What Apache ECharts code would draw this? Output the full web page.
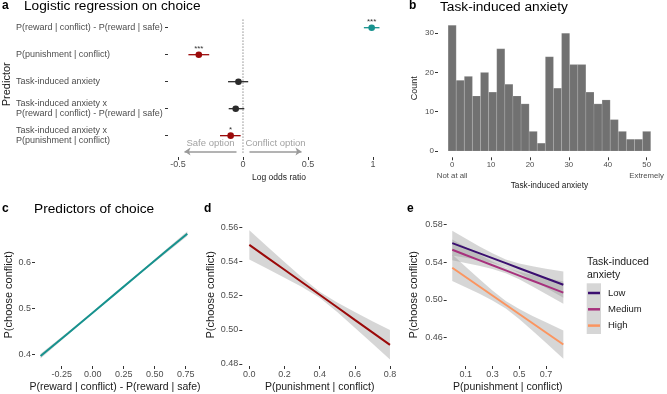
<!DOCTYPE html>
<html>
<head>
<meta charset="utf-8">
<script src="https://cdn.jsdelivr.net/npm/echarts@6/dist/echarts.min.js"></script>
<style>
  html, body { margin: 0; padding: 0; background: #fff; }
  #main { width: 667px; height: 394px; }
</style>
</head>
<body>
<div id="main"></div>
<script>
// ---- panel a: logistic regression coefficients ----
const predictors = [
  'P(reward | conflict) - P(reward | safe)',
  'P(punishment | conflict)',
  'Task-induced anxiety',
  'Task-induced anxiety x\nP(reward | conflict) - P(reward | safe)',
  'Task-induced anxiety x\nP(punishment | conflict)'
];
const estimate = [0.99, -0.34, -0.035, -0.056, -0.095];
const ciLow = [0.93, -0.42, -0.115, -0.11, -0.177];
const ciHigh = [1.05, -0.26, 0.04, 0.01, -0.018];
const stars = ['***', '***', '', '', '*'];
const aTicks = [-0.5, 0, 0.5, 1];

// ---- panel b: histogram of task-induced anxiety ----
const binCenters = [0, 2.08, 4.17, 6.25, 8.33, 10.42, 12.5, 14.58, 16.67, 18.75, 20.83, 22.92, 25,
  27.08, 29.17, 31.25, 33.33, 35.42, 37.5, 39.58, 41.67, 43.75, 45.83, 47.92, 50];
const binCounts = [32, 18, 19, 14, 20, 15, 26, 17, 14, 12, 5, 2, 24, 16, 30, 22, 22, 15, 12, 13, 8, 5, 3, 3, 5];
const binWidth = 2.083;
const bTicks = [0, 10, 20, 30, 40, 50];
const countTicks = [0, 10, 20, 30];

// ---- panel c: reward difference ----
const cX = [-0.42, -0.2, 0, 0.2, 0.4, 0.6, 0.763];
const cFit = [0.397, 0.446, 0.491, 0.536, 0.581, 0.626, 0.662];
const cLow = [0.392, 0.443, 0.4895, 0.5347, 0.579, 0.622, 0.657];
const cHigh = [0.402, 0.449, 0.4925, 0.5373, 0.583, 0.630, 0.667];

// ---- panel d: punishment ----
const dX = [0, 0.1, 0.2, 0.3, 0.4, 0.5, 0.6, 0.7, 0.8];
const dFit = [0.5497, 0.5424, 0.5351, 0.5278, 0.5205, 0.5132, 0.5058, 0.4985, 0.4912];
const dLow = [0.5411, 0.5359, 0.5305, 0.5250, 0.5187, 0.5104, 0.5012, 0.4920, 0.4826];
const dHigh = [0.5583, 0.5489, 0.5397, 0.5306, 0.5223, 0.5160, 0.5104, 0.5050, 0.4998];

// ---- panel e: punishment by anxiety group ----
const eX = [0, 0.1, 0.2, 0.3, 0.4, 0.5, 0.6, 0.7, 0.83];
const lowFit = [0.560, 0.5547, 0.5494, 0.5441, 0.5388, 0.5335, 0.5282, 0.5229, 0.5160];
const lowHigh = [0.573, 0.5648, 0.5568, 0.5492, 0.5428, 0.5386, 0.5356, 0.5330, 0.5299];
const lowLow = [0.547, 0.5446, 0.5420, 0.5390, 0.5348, 0.5284, 0.5208, 0.5128, 0.5021];
const medFit = [0.553, 0.5475, 0.5421, 0.5366, 0.5312, 0.5257, 0.5202, 0.5148, 0.5077];
const medHigh = [0.564, 0.5560, 0.5482, 0.5406, 0.5342, 0.5297, 0.5263, 0.5233, 0.5195];
const medLow = [0.542, 0.5390, 0.5360, 0.5326, 0.5282, 0.5217, 0.5141, 0.5063, 0.4959];
const highFit = [0.534, 0.5242, 0.5144, 0.5046, 0.4948, 0.4850, 0.4752, 0.4654, 0.4527];
const highHigh = [0.548, 0.5350, 0.5222, 0.5098, 0.4988, 0.4902, 0.4830, 0.4762, 0.4677];
const highLow = [0.520, 0.5134, 0.5066, 0.4994, 0.4908, 0.4798, 0.4674, 0.4546, 0.4377];

const teal = '#17928e';
const darkRed = '#9b0a0a';
const dark = '#2b2b2b';
const pointColors = [teal, darkRed, dark, dark, darkRed];
const groupColors = { Low: '#3b0f70', Medium: '#a7317d', High: '#fb9560' };
const font = 'Liberation Sans, Arial, sans-serif';

// 坐标轴：没有轴线，只有短刻度
function valueAxis(grid, min, max, ticks, fmt, name, nameGap, nameSize, extra) {
  const axis = {
    type: 'value', gridIndex: grid, min: min, max: max,
    axisLine: { show: false, onZero: false },
    splitLine: { show: false },
    axisTick: { show: true, customValues: ticks, length: 3, lineStyle: { color: '#333', width: 1 } },
    axisLabel: { customValues: ticks, formatter: fmt, color: '#4d4d4d', fontSize: 9, margin: 4, fontFamily: font },
    name: name, nameLocation: 'middle', nameGap: nameGap,
    nameTextStyle: { color: '#1a1a1a', fontSize: nameSize, fontFamily: font }
  };
  if (extra) {
    Object.keys(extra).forEach(function (k) {
      if (typeof extra[k] === 'object' && axis[k]) Object.assign(axis[k], extra[k]);
      else axis[k] = extra[k];
    });
  }
  return axis;
}

// grey confidence band drawn as one polygon
function ribbon(idx, xs, lo, hi) {
  return {
    type: 'custom', xAxisIndex: idx, yAxisIndex: idx, silent: true, z: 1,
    data: xs.map(function (x, i) { return [x, lo[i], hi[i]]; }),
    encode: { x: 0, y: [1, 2] },
    renderItem: function (params, api) {
      if (params.dataIndex !== 0) return null;
      const pts = [];
      xs.forEach(function (x, i) { pts.push(api.coord([x, hi[i]])); });
      for (let i = xs.length - 1; i >= 0; i--) pts.push(api.coord([xs[i], lo[i]]));
      return { type: 'polygon', shape: { points: pts }, style: { fill: 'rgba(153,153,153,0.4)' } };
    }
  };
}

function fitLine(idx, xs, ys, color, name) {
  return {
    type: 'line', name: name, xAxisIndex: idx, yAxisIndex: idx, silent: true, z: 3,
    data: xs.map(function (x, i) { return [x, ys[i]]; }),
    symbol: 'none', lineStyle: { color: color, width: 2 }, itemStyle: { color: color }
  };
}

const fix = function (d) { return function (v) { return v.toFixed(d); }; };

const chart = echarts.init(document.getElementById('main'));

const option = {
  animation: false,
  backgroundColor: '#fff',
  textStyle: { fontFamily: font },
  title: [
    { text: 'a', left: 2, top: 0, padding: 0, textStyle: { fontSize: 12, fontWeight: 'bold', color: '#000' } },
    { text: 'Logistic regression on choice', left: 24, top: -1, padding: 0, textStyle: { fontSize: 13.7, fontWeight: 'normal', color: '#000' } },
    { text: 'b', left: 409, top: 0, padding: 0, textStyle: { fontSize: 12, fontWeight: 'bold', color: '#000' } },
    { text: 'Task-induced anxiety', left: 440, top: 0, padding: 0, textStyle: { fontSize: 13.7, fontWeight: 'normal', color: '#000' } },
    { text: 'c', left: 2, top: 203, padding: 0, textStyle: { fontSize: 12, fontWeight: 'bold', color: '#000' } },
    { text: 'Predictors of choice', left: 34, top: 202, padding: 0, textStyle: { fontSize: 13.7, fontWeight: 'normal', color: '#000' } },
    { text: 'd', left: 204, top: 203, padding: 0, textStyle: { fontSize: 12, fontWeight: 'bold', color: '#000' } },
    { text: 'e', left: 407, top: 203, padding: 0, textStyle: { fontSize: 12, fontWeight: 'bold', color: '#000' } },
    { text: 'Task-induced\nanxiety', left: 587, top: 255, padding: 0, textStyle: { fontSize: 10.5, lineHeight: 13.3, fontWeight: 'normal', color: '#1a1a1a' } }
  ],
  legend: {
    data: ['Low', 'Medium', 'High'], orient: 'vertical', left: 588, top: 287, padding: 0,
    icon: 'rect', itemWidth: 12, itemHeight: 2.5, itemGap: 4.3, z: 5,
    selectedMode: false,
    textStyle: { fontSize: 9.5, lineHeight: 12, color: '#1a1a1a', padding: [0, 0, 0, 3] }
  },
  graphic: [
    { type: 'rect', left: 586.7, top: 283.3, shape: { width: 14.3, height: 50.7 }, style: { fill: '#d6d6d6' }, z: 0 }
  ],
  grid: [
    { left: 168, top: 11.5, width: 222, height: 145.5 },
    { left: 438, top: 19, width: 225.3, height: 138.3 },
    { left: 35, top: 223.5, width: 160, height: 142.5 },
    { left: 242.3, top: 223.5, width: 154.7, height: 142.5 },
    { left: 446.7, top: 223.5, width: 122.2, height: 142.5 }
  ],
  xAxis: [
    valueAxis(0, -0.577, 1.131, aTicks, function (v) { return String(v); }, 'Log odds ratio', 16, 8.5,
      { axisLabel: { fontSize: 9, margin: 3 } }),
    valueAxis(1, -3.64, 53.64, bTicks, function (v) {
      if (v === 0) return '0\nNot at all';
      if (v === 50) return '50\nExtremely';
      return String(v);
    }, 'Task-induced anxiety', 24, 8.3, { axisLabel: { fontSize: 7.8, lineHeight: 11, margin: 2 } }),
    valueAxis(2, -0.465, 0.825, [-0.25, 0, 0.25, 0.5, 0.75], fix(2), 'P(reward | conflict) - P(reward | safe)', 16, 10.5),
    valueAxis(3, -0.04, 0.84, [0, 0.2, 0.4, 0.6, 0.8], fix(1), 'P(punishment | conflict)', 16, 10.5),
    valueAxis(4, -0.0415, 0.8715, [0.1, 0.3, 0.5, 0.7], fix(1), 'P(punishment | conflict)', 16, 10.5)
  ],
  yAxis: [
    valueAxis(0, 0.4, 5.79, [1, 2, 3, 4, 5], function (v) { return predictors[Math.round(v) - 1]; },
      'Predictor', 155.5, 11, { inverse: true, axisLabel: { align: 'left', margin: 152, fontSize: 9, lineHeight: 10 } }),
    valueAxis(1, -1.6, 33.6, countTicks, function (v) { return String(v); }, 'Count', 19, 9,
      { axisLabel: { fontSize: 8 } }),
    valueAxis(2, 0.3755, 0.684, [0.4, 0.5, 0.6], fix(1), 'P(choose conflict)', 19, 11),
    valueAxis(3, 0.4788, 0.5622, [0.48, 0.5, 0.52, 0.54, 0.56], fix(2), 'P(choose conflict)', 25.5, 11),
    valueAxis(4, 0.43, 0.5808, [0.46, 0.5, 0.54, 0.58], fix(2), 'P(choose conflict)', 27.5, 11)
  ],
  series: [
    // zero reference line
    {
      type: 'line', xAxisIndex: 0, yAxisIndex: 0, silent: true, symbol: 'none',
      data: [[0, 0.7], [0, 5.65]], lineStyle: { color: '#555', width: 1, type: [1, 2] }
    },
    // safe / conflict arrows
    {
      type: 'lines', coordinateSystem: 'cartesian2d', xAxisIndex: 0, yAxisIndex: 0, silent: true,
      symbol: ['none', 'arrow'], symbolSize: 6,
      lineStyle: { color: '#9a9a9a', width: 1.5, opacity: 1 },
      data: [{ coords: [[-0.05, 5.59], [-0.45, 5.59]] }, { coords: [[0.05, 5.59], [0.45, 5.59]] }]
    },
    {
      type: 'scatter', xAxisIndex: 0, yAxisIndex: 0, silent: true, symbolSize: 0,
      data: [[-0.25, 5.29, 'Safe option'], [0.25, 5.29, 'Conflict option']],
      label: { show: true, position: 'inside', formatter: function (p) { return p.value[2]; }, fontSize: 9.5, color: '#8a8a8a' }
    },
    // coefficient estimates with CIs
    {
      type: 'custom', xAxisIndex: 0, yAxisIndex: 0, silent: true, z: 4,
      data: predictors.map(function (p, i) { return [estimate[i], i + 1, ciLow[i], ciHigh[i]]; }),
      encode: { x: [0, 2, 3], y: 1 },
      renderItem: function (params, api) {
        const i = params.dataIndex;
        const y = api.value(1);
        const pt = api.coord([api.value(0), y]);
        const lo = api.coord([api.value(2), y]);
        const hi = api.coord([api.value(3), y]);
        const color = pointColors[i];
        return {
          type: 'group',
          children: [
            { type: 'line', shape: { x1: lo[0], y1: lo[1], x2: hi[0], y2: hi[1] }, style: { stroke: color, lineWidth: 1.3 } },
            { type: 'circle', shape: { cx: pt[0], cy: pt[1], r: 3.3 }, style: { fill: color } },
            { type: 'text', style: { text: stars[i], x: pt[0], y: pt[1] - 1.5, align: 'center', verticalAlign: 'bottom', fontSize: 8, fill: '#333' } }
          ]
        };
      }
    },
    // histogram
    {
      type: 'custom', xAxisIndex: 1, yAxisIndex: 1, silent: true,
      data: binCenters.map(function (c, i) { return [c, binCounts[i]]; }),
      encode: { x: 0, y: 1 },
      renderItem: function (params, api) {
        const c = api.value(0);
        const p0 = api.coord([c - binWidth / 2, api.value(1)]);
        const p1 = api.coord([c + binWidth / 2, 0]);
        return {
          type: 'rect',
          shape: { x: p0[0], y: p0[1], width: p1[0] - p0[0], height: p1[1] - p0[1] },
          style: { fill: '#717171', stroke: 'rgba(255,255,255,0.25)', lineWidth: 0.5 }
        };
      }
    },
    ribbon(2, cX, cLow, cHigh),
    fitLine(2, cX, cFit, teal, 'c'),
    ribbon(3, dX, dLow, dHigh),
    fitLine(3, dX, dFit, darkRed, 'd'),
    ribbon(4, eX, lowLow, lowHigh),
    ribbon(4, eX, medLow, medHigh),
    ribbon(4, eX, highLow, highHigh),
    fitLine(4, eX, lowFit, groupColors.Low, 'Low'),
    fitLine(4, eX, medFit, groupColors.Medium, 'Medium'),
    fitLine(4, eX, highFit, groupColors.High, 'High')
  ]
};

chart.setOption(option);
</script>
</body>
</html>
